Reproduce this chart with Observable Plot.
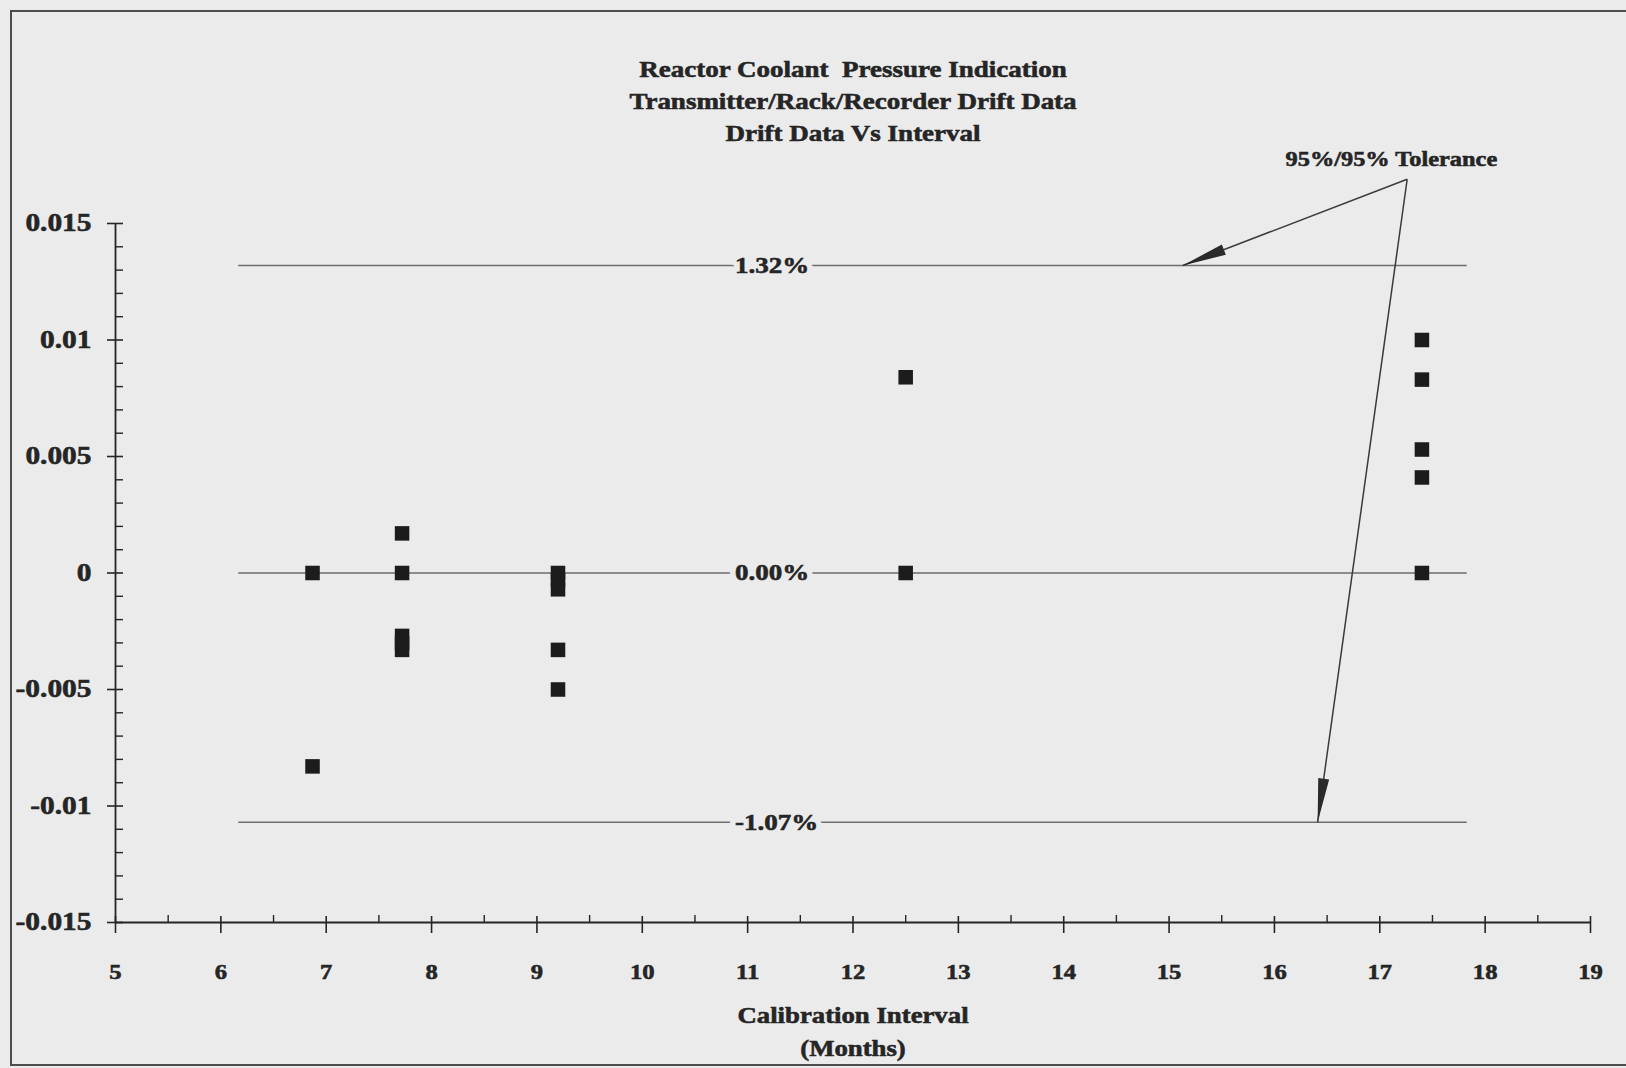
<!DOCTYPE html>
<html>
<head>
<meta charset="utf-8">
<script src="https://cdn.jsdelivr.net/npm/d3@7"></script>
<script src="https://cdn.jsdelivr.net/npm/@observablehq/plot@0.6"></script>
<style>
  html, body { margin: 0; padding: 0; background: #ebebeb; }
  #page { position: relative; width: 1626px; height: 1068px; overflow: hidden; background: #ebebeb; }
  #frame { position: absolute; left: 10px; top: 10px; width: 1660px; height: 1056px;
           border: 2px solid #4d4d4d; box-sizing: border-box; }
  #chart { position: absolute; left: 0; top: 0; }
</style>
</head>
<body>
<div id="page"><div id="frame"></div><div id="chart"></div></div>
<script>
// Calibration interval (months) and drift for each transmitter/rack/recorder check
const intervals = [6.87, 6.87,
                   7.72, 7.72, 7.72, 7.72, 7.72,
                   9.2, 9.2, 9.2, 9.2, 9.2,
                   12.5, 12.5,
                   17.4, 17.4, 17.4, 17.4, 17.4];
const drifts    = [0, -0.0083,
                   0.0017, 0, -0.0027, -0.0030, -0.0033,
                   0, -0.0003, -0.0007, -0.0033, -0.0050,
                   0.0084, 0,
                   0.0100, 0.0083, 0.0053, 0.0041, 0];

// 95%/95% tolerance limits and the mean line
const toleranceValues = [0.0132, 0, -0.0107];
const toleranceSpan = [6.17, 17.83];
const toleranceLabelX = 10.88;

// Axis ticks
const xMajorTicks = [5, 6, 7, 8, 9, 10, 11, 12, 13, 14, 15, 16, 17, 18, 19];
const xMinorTicks = [5.5, 6.5, 7.5, 8.5, 9.5, 10.5, 11.5, 12.5, 13.5, 14.5, 15.5, 16.5, 17.5, 18.5];
const yMajorTicks = [-0.015, -0.01, -0.005, 0, 0.005, 0.01, 0.015];
const yTickLabels = ["-0.015", "-0.01", "-0.005", "0", "0.005", "0.01", "0.015"];
const yMinorTicks = d3.range(-15, 16).filter(i => i % 5 !== 0).map(i => i / 1000);

// Callout: label and the two arrows pointing at the tolerance limits
const calloutText = "95%/95% Tolerance";
const calloutLabel = {x: 17.11, y: 0.01775};
const calloutArrows = [
  {x1: 17.26, y1: 0.0169, x2: 15.13, y2: 0.0132},
  {x1: 17.26, y1: 0.0169, x2: 16.41, y2: -0.0107}
];

const titleText = "Reactor Coolant  Pressure Indication\nTransmitter/Rack/Recorder Drift Data\nDrift Data Vs Interval";
const xLabelText = "Calibration Interval\n(Months)";

const points = intervals.map((x, i) => ({x, y: drifts[i]}));
const ink = "#252525";
const paper = "#ebebeb";

// Narrow filled arrowhead; its tip sits at the vector's anchor point
const arrowHead = {
  draw(context, l) {
    const w = 5.5;
    context.moveTo(0, -l);
    context.lineTo(-w, 0);
    context.lineTo(w, 0);
    context.closePath();
  }
};

function build(headAngles) {
  return Plot.plot({
    width: 1626,
    height: 1068,
    marginLeft: 115,
    marginRight: 36,
    marginTop: 223,
    marginBottom: 146,
    x: {domain: [5, 19], axis: null},
    y: {domain: [-0.015, 0.015], axis: null},
    style: {
      background: "transparent",
      fontFamily: "'Liberation Serif', 'Times New Roman', serif",
      fontWeight: "bold",
      color: ink
    },
    marks: [
      // title block
      Plot.text([titleText], {frameAnchor: "top", dy: -125, lineAnchor: "middle",
        lineHeight: 1.42, fontSize: 22.5, fill: ink}),

      // tolerance lines; labels sit on a paper-coloured halo that breaks the line
      Plot.ruleY(toleranceValues, {x1: toleranceSpan[0], x2: toleranceSpan[1],
        stroke: "#6e6e6e", strokeWidth: 1.4}),
      Plot.text(toleranceValues, {x: toleranceLabelX, y: d => d,
        text: d => (d * 100).toFixed(2) + "%", textAnchor: "start", fontSize: 22.5,
        fill: paper, stroke: paper, strokeWidth: 10}),
      Plot.text(toleranceValues, {x: toleranceLabelX, y: d => d,
        text: d => (d * 100).toFixed(2) + "%", textAnchor: "start", fontSize: 22.5,
        fill: ink}),

      // axes
      Plot.ruleX([5], {y1: -0.015, y2: 0.015, stroke: ink, strokeWidth: 1.8}),
      Plot.ruleY([-0.015], {x1: 5, x2: 19, stroke: ink, strokeWidth: 1.8}),
      Plot.axisY({ticks: yMajorTicks, tickSize: 16, dx: 8, tickPadding: 16,
        tickFormat: d => yTickLabels[yMajorTicks.indexOf(d)],
        fontSize: 24.5, strokeWidth: 1.6}),
      Plot.axisY({ticks: yMinorTicks, tickSize: 8, dx: 8, tickFormat: () => "",
        strokeWidth: 1.4}),
      Plot.axisX({ticks: xMajorTicks, tickSize: 17, dy: -6, tickPadding: 31,
        tickFormat: d => String(d), fontSize: 20.5, strokeWidth: 1.6}),
      Plot.axisX({ticks: xMinorTicks, tickSize: 7, dy: -7, tickFormat: () => "",
        strokeWidth: 1.4}),

      // x axis title
      Plot.text([xLabelText], {frameAnchor: "bottom", dy: 106, lineAnchor: "middle",
        lineHeight: 1.48, fontSize: 22.3, fill: ink}),

      // drift data
      Plot.dot(points, {x: "x", y: "y", symbol: "square", r: 8.2, fill: "#1c1c1c", stroke: "none"}),

      // callout
      Plot.link(calloutArrows, {x1: "x1", y1: "y1", x2: "x2", y2: "y2",
        stroke: "#3a3a3a", strokeWidth: 1.5}),
      Plot.vector(calloutArrows, {x: "x2", y: "y2", length: 44, anchor: "end",
        rotate: (d, i) => headAngles[i], shape: arrowHead, fill: "#2a2a2a", stroke: "none"}),
      Plot.text([calloutLabel], {x: "x", y: "y", text: () => calloutText,
        fontSize: 20.3, fill: ink})
    ]
  });
}

// First pass gives the scales; the arrowheads are then turned along each arrow
const probe = build(calloutArrows.map(() => 0));
const sx = probe.scale("x"), sy = probe.scale("y");
const angles = calloutArrows.map(a => {
  const dx = sx.apply(a.x2) - sx.apply(a.x1);
  const dy = sy.apply(a.y2) - sy.apply(a.y1);
  return Math.atan2(dx, -dy) * 180 / Math.PI;
});
const chart = build(angles);

// The lettering of this chart is set wide and heavy: stretch every label
// horizontally about its anchor and thicken the strokes (halo texts excepted)
d3.select(chart).selectAll("text").each(function () {
  const t = this.getAttribute("transform") || "";
  this.setAttribute("transform", t + " scale(1.2,1)");
  const g = this.closest("g");
  if (!(g && g.getAttribute("stroke"))) {
    this.setAttribute("stroke", ink);
    this.setAttribute("stroke-width", "0.55");
  }
});

document.getElementById("chart").appendChild(chart);
</script>
</body>
</html>
